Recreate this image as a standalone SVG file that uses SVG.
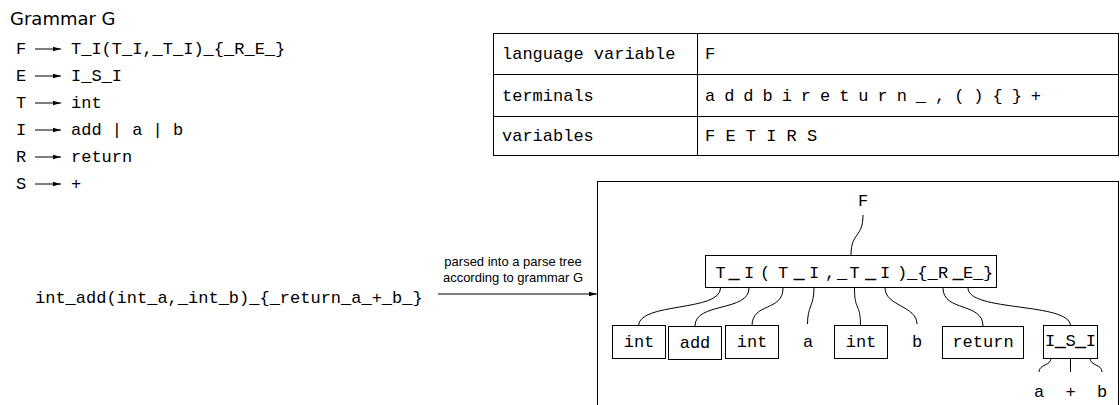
<svg xmlns="http://www.w3.org/2000/svg" width="1120" height="405" viewBox="0 0 1120 405">
<style>
.m{font-family:"Liberation Mono","DejaVu Sans Mono",monospace;font-size:17px;fill:#000}
.h{font-family:"DejaVu Sans",Verdana,sans-serif;font-size:18px;fill:#000}
.s{font-family:"Liberation Sans",Arial,sans-serif;font-size:13px;fill:#000}
.c{text-anchor:middle}
.b{font-weight:bold;stroke:#000;stroke-width:0.9}
.box{fill:#fff;stroke:#000;stroke-width:1}
.ln{fill:none;stroke:#000;stroke-width:1}
</style>
<defs>
<marker id="ah" viewBox="0 0 8 6" refX="8" refY="3" markerWidth="8" markerHeight="6" markerUnits="userSpaceOnUse" orient="auto">
<path d="M0,0.8 L8,3 L0,5.2 Z" fill="#000"/>
</marker>
</defs>
<rect width="1120" height="405" fill="#fff"/>

<g id="grammar">
<text class="h" x="10" y="25">Grammar G</text>
<g class="ln">
<line x1="35" y1="49" x2="61" y2="49" marker-end="url(#ah)"/>
<line x1="35" y1="76" x2="61" y2="76" marker-end="url(#ah)"/>
<line x1="35" y1="103" x2="61" y2="103" marker-end="url(#ah)"/>
<line x1="35" y1="130" x2="61" y2="130" marker-end="url(#ah)"/>
<line x1="35" y1="157" x2="61" y2="157" marker-end="url(#ah)"/>
<line x1="35" y1="184" x2="61" y2="184" marker-end="url(#ah)"/>
</g>
<text class="m" x="16" y="54">F</text><text class="m" x="71" y="54">T_I(T_I,_T_I)_{_R_E_}</text>
<text class="m" x="16" y="81">E</text><text class="m" x="71" y="81">I_S_I</text>
<text class="m" x="16" y="108">T</text><text class="m" x="71" y="108">int</text>
<text class="m" x="16" y="135">I</text><text class="m" x="71" y="135">add | a | b</text>
<text class="m" x="16" y="162">R</text><text class="m" x="71" y="162">return</text>
<text class="m" x="16" y="189">S</text><text class="m" x="71" y="189">+</text>
</g>

<g id="table">
<rect x="493.5" y="33.5" width="625" height="122" fill="none" stroke="#000"/>
<line x1="493.5" y1="74.5" x2="1118.5" y2="74.5" stroke="#000"/>
<line x1="493.5" y1="116.5" x2="1118.5" y2="116.5" stroke="#000"/>
<line x1="697.5" y1="33.5" x2="697.5" y2="155.5" stroke="#000"/>
<text class="m" x="502" y="59">language variable</text>
<text class="m" x="705" y="59">F</text>
<text class="m" x="502" y="101">terminals</text>
<text class="m" x="705" y="101" textLength="336" lengthAdjust="spacing">a d d b i r e t u r n _ , ( ) { } +</text>
<text class="m" x="502" y="141">variables</text>
<text class="m" x="705" y="141">F E T I R S</text>
</g>

<g id="input">
<text class="m" x="35" y="303">int_add(int_a,_int_b)_{_return_a_+_b_}</text>
</g>

<g id="parse-arrow">
<line class="ln" x1="438" y1="294" x2="597" y2="294" marker-end="url(#ah)"/>
<text class="s c" x="513" y="266">parsed into a parse tree</text>
<text class="s c" x="513" y="282">according to grammar G</text>
</g>

<g id="tree-frame">
<rect x="597.5" y="181.5" width="521" height="240" fill="none" stroke="#000"/>
</g>

<g id="connectors" class="ln">
<path d="M863,215 C863,238 851,232 851,255"/>
<path d="M720.5,288 C720.5,312 638.5,302 638.5,326"/>
<path d="M749,288 C749,312 695,302 695,326"/>
<path d="M783,288 C783,312 752,302 752,326"/>
<path d="M814,288 C814,306 807.5,306 807.5,324"/>
<path d="M854.5,288 C854.5,312 860.5,302 860.5,326"/>
<path d="M885,288 C885,306 917,306 917,324"/>
<path d="M943,288 C943,312 983,302 983,326"/>
<path d="M968,288 C968,312 1070.5,302 1070.5,326"/>
<path d="M1051,358 C1051,366 1039,364 1039,372"/>
<path d="M1070.5,358 L1070.5,372"/>
<path d="M1090,358 C1090,366 1102,364 1102,372"/>
</g>

<g id="node-F"><text class="m c" x="863" y="206">F</text></g>

<g id="node-main">
<rect class="box" x="705.5" y="255.5" width="291" height="32"/>
<text class="m c" y="278"><tspan x="720.5">T</tspan><tspan class="b" x="734">_</tspan><tspan x="749">I</tspan><tspan x="765">(</tspan><tspan x="783">T</tspan><tspan class="b" x="799">_</tspan><tspan x="814">I</tspan><tspan x="830">,</tspan><tspan x="842">_</tspan><tspan x="854.5">T</tspan><tspan class="b" x="870.5">_</tspan><tspan x="885">I</tspan><tspan x="902">)</tspan><tspan x="912.2">_</tspan><tspan x="922.4">{</tspan><tspan x="932.6">_</tspan><tspan x="943">R</tspan><tspan class="b" x="958">_</tspan><tspan x="968">E</tspan><tspan x="978">_</tspan><tspan x="988">}</tspan></text>
</g>

<g id="node-int1"><rect class="box" x="612.5" y="325.5" width="53" height="33"/><text class="m c" x="639" y="347">int</text></g>
<g id="node-add"><rect class="box" x="668.5" y="326.5" width="53" height="33"/><text class="m c" x="695" y="348">add</text></g>
<g id="node-int2"><rect class="box" x="725.5" y="325.5" width="53" height="33"/><text class="m c" x="752" y="347">int</text></g>
<g id="node-a"><text class="m c" x="808" y="347">a</text></g>
<g id="node-int3"><rect class="box" x="834.5" y="325.5" width="53" height="33"/><text class="m c" x="861" y="347">int</text></g>
<g id="node-b"><text class="m c" x="917" y="347">b</text></g>
<g id="node-return"><rect class="box" x="942.5" y="326.5" width="81" height="32"/><text class="m c" x="983" y="347">return</text></g>
<g id="node-ISI">
<rect class="box" x="1043.5" y="325.5" width="54" height="33"/>
<text class="m c" x="1070.5" y="346">I<tspan class="b">_</tspan>S<tspan class="b">_</tspan>I</text>
</g>
<g id="leaf-a"><text class="m c" x="1039" y="397">a</text></g>
<g id="leaf-plus"><text class="m c" x="1070.5" y="397">+</text></g>
<g id="leaf-b"><text class="m c" x="1102" y="397">b</text></g>
</svg>
